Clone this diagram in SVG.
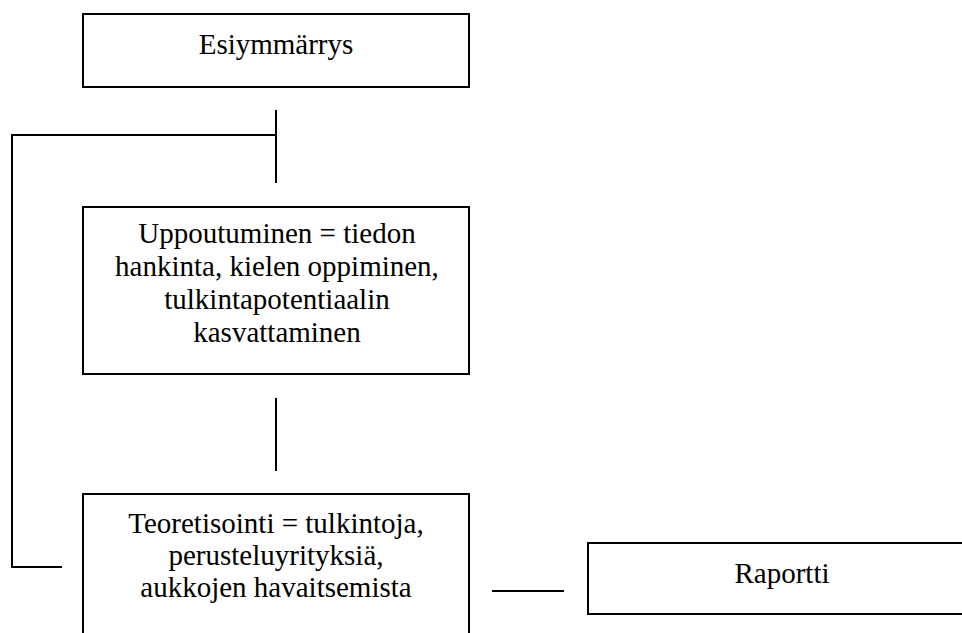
<svg xmlns="http://www.w3.org/2000/svg" width="962" height="633" viewBox="0 0 962 633">
  <style>
    .box { fill: #ffffff; stroke: #000000; stroke-width: 2; }
    .line { fill: none; stroke: #000000; stroke-width: 2; }
    .label { font-family: 'Liberation Serif', 'Times New Roman', serif; font-size: 29px; fill: #000000; text-anchor: middle; }
  </style>
  <rect width="962" height="633" fill="#ffffff"/>

  <g id="connectors">
    <line class="line" x1="276" y1="110" x2="276" y2="183"/>
    <polyline class="line" points="276,135 12,135 12,567 62,567"/>
    <line class="line" x1="276" y1="398" x2="276" y2="471"/>
    <line class="line" x1="492" y1="591" x2="564" y2="591"/>
  </g>

  <g id="esiymmarrys" font-family="Liberation Serif, serif">
    <rect class="box" x="83" y="14" width="386" height="73"/>
    <text class="label" x="276" y="54">Esiymmärrys</text>
  </g>

  <g id="uppoutuminen" font-family="Liberation Serif, serif">
    <rect class="box" x="83" y="207" width="386" height="167"/>
    <text class="label" x="277" y="243">Uppoutuminen = tiedon</text>
    <text class="label" x="277" y="276">hankinta, kielen oppiminen,</text>
    <text class="label" x="277" y="309">tulkintapotentiaalin</text>
    <text class="label" x="277" y="342">kasvattaminen</text>
  </g>

  <g id="teoretisointi" font-family="Liberation Serif, serif">
    <rect class="box" x="83" y="494" width="386" height="160"/>
    <text class="label" x="276" y="533">Teoretisointi = tulkintoja,</text>
    <text class="label" x="276" y="565">perusteluyrityksiä,</text>
    <text class="label" x="276" y="597">aukkojen havaitsemista</text>
  </g>

  <g id="raportti" font-family="Liberation Serif, serif">
    <rect class="box" x="588" y="543" width="388" height="71"/>
    <text class="label" x="782" y="583">Raportti</text>
  </g>
</svg>
